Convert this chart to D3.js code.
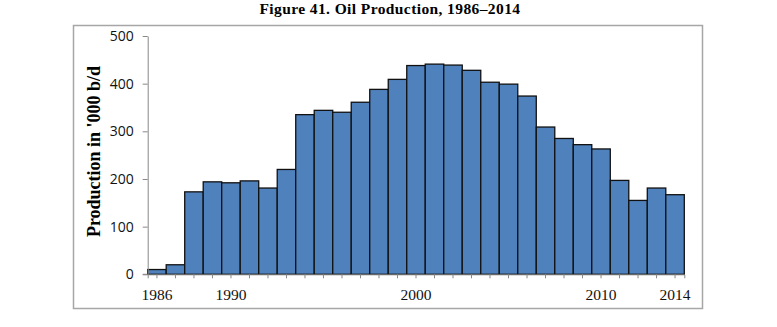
<!DOCTYPE html>
<html>
<head>
<meta charset="utf-8">
<script src="https://cdn.jsdelivr.net/npm/d3@7"></script>
<style>
  html, body { margin: 0; padding: 0; background: #fff; }
  svg { display: block; }
</style>
</head>
<body>
<svg id="chart" width="777" height="327"></svg>
<script>
const title = "Figure 41. Oil Production, 1986–2014";
const yAxisTitle = "Production in '000 b/d";
const years = [1986,1987,1988,1989,1990,1991,1992,1993,1994,1995,1996,1997,1998,1999,2000,
               2001,2002,2003,2004,2005,2006,2007,2008,2009,2010,2011,2012,2013,2014];
const production = [10,20,173,194,192,196,181,220,335,344,340,361,388,409,438,
                    441,439,428,403,399,374,309,285,272,263,197,155,181,167];
const yTicks = [0,100,200,300,400,500];
const xLabelYears = [1986,1990,2000,2010,2014];

const svg = d3.select("#chart");

// outer frame
svg.append("rect")
  .attr("x", 73.5).attr("y", 25.5)
  .attr("width", 629).attr("height", 283)
  .attr("fill", "#fff")
  .attr("stroke", "#a6a6a6")
  .attr("stroke-width", 1.5);

// title
svg.append("text")
  .attr("x", 390).attr("y", 14)
  .attr("text-anchor", "middle")
  .attr("font-family", "'Liberation Serif', 'DejaVu Serif', serif")
  .attr("font-weight", "bold")
  .attr("font-size", 15.5)
  .attr("letter-spacing", 0.4)
  .text(title);

const x = d3.scaleBand().domain(years).range([147.7, 684.3]).padding(0);
const y = d3.scaleLinear().domain([0, 500]).range([274.3, 36]);

// bars
svg.append("g").selectAll("rect")
  .data(years.map((yr, i) => ({ yr, v: production[i] })))
  .join("rect")
  .attr("x", d => x(d.yr))
  .attr("y", d => y(d.v))
  .attr("width", x.bandwidth())
  .attr("height", d => y(0) - y(d.v))
  .attr("fill", "#4f81bd")
  .attr("stroke", "#111")
  .attr("stroke-width", 1.3);

// y axis
const yAxis = svg.append("g")
  .attr("transform", "translate(147.7,0)")
  .call(d3.axisLeft(y).tickValues(yTicks).tickSize(5).tickSizeOuter(0).tickPadding(9));
yAxis.select(".domain").attr("stroke", "#888").attr("stroke-width", 1);
yAxis.selectAll(".tick line").attr("stroke", "#888");
yAxis.selectAll(".tick text")
  .attr("font-family", "'Open Sans', 'Noto Sans', sans-serif")
  .attr("font-size", 14)
  .attr("fill", "#111");

// x axis
const xAxis = svg.append("g")
  .attr("transform", "translate(0,274.3)")
  .call(d3.axisBottom(x).tickValues(years).tickSize(4).tickSizeOuter(4).tickPadding(10.5)
    .tickFormat(d => xLabelYears.includes(d) ? String(d) : ""));
xAxis.select(".domain").attr("stroke", "#888").attr("stroke-width", 1);
xAxis.selectAll(".tick line").attr("stroke", "#888");
xAxis.selectAll(".tick text")
  .attr("font-family", "'Liberation Serif', 'DejaVu Serif', serif")
  .attr("font-size", 15.5)
  .attr("fill", "#111");
// extend baseline a little to the left like the reference (0 tick)
svg.append("line")
  .attr("x1", 142.7).attr("x2", 147.7)
  .attr("y1", 274.3).attr("y2", 274.3)
  .attr("stroke", "#888");

// y axis title
svg.append("text")
  .attr("transform", "translate(99.5,151.5) rotate(-90)")
  .attr("text-anchor", "middle")
  .attr("font-family", "'Liberation Serif', 'DejaVu Serif', serif")
  .attr("font-weight", "bold")
  .attr("font-size", 18)
  .text(yAxisTitle);
</script>
</body>
</html>
